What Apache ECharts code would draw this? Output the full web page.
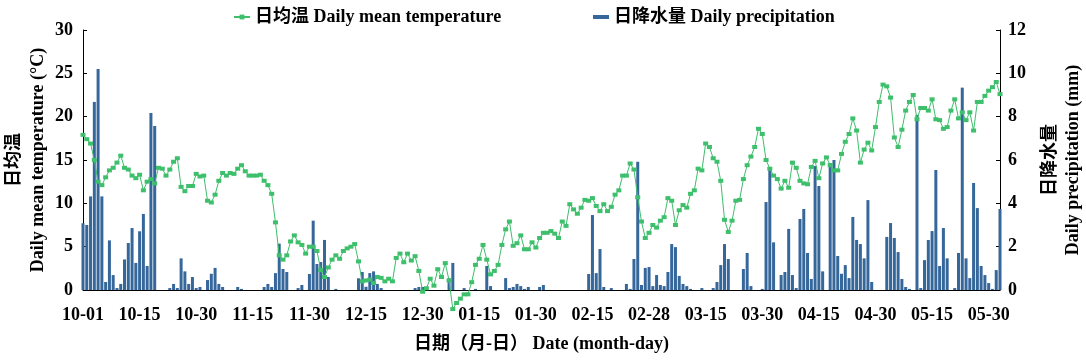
<!DOCTYPE html>
<html>
<head>
<meta charset="utf-8">
<script src="https://cdn.jsdelivr.net/npm/echarts@6/dist/echarts.min.js"></script>
<style>
html,body{margin:0;padding:0;background:#fff;}
#chart{width:1086px;height:360px;}
</style>
</head>
<body>
<div id="chart"></div>
<script>
// Tick labels placed every 15 days (day index 0, 15, 30, ...)
const tickLabels = ['10-01','10-15','10-30','11-15','11-30','12-15','12-30','01-15','01-30','02-15','02-28','03-15','03-30','04-15','04-30','05-15','05-30'];

// Daily mean temperature (°C), one value per day starting 10-01
const temperature = [
  17.9,17.4,16.9,15.0,12.5,12.1,13.0,13.8,14.1,14.7,15.5,14.1,13.9,13.2,12.9,13.3,11.5,12.5,12.8,12.3,14.1,14.0,13.2,13.9,14.8,15.2,11.9,11.4,12.0,12.0,13.4,
  13.1,13.2,10.3,10.1,11.0,12.6,13.5,13.2,13.5,13.4,14.0,14.4,13.7,13.2,13.2,13.2,13.3,12.6,12.1,11.1,7.8,4.0,3.5,4.0,5.6,6.3,5.5,5.2,4.2,5.0,5.0,
  4.5,2.3,1.5,2.6,3.5,4.0,3.6,4.5,4.8,5.0,5.3,3.3,1.0,1.1,1.2,0.8,1.5,1.4,1.0,1.3,1.0,3.7,4.2,3.2,4.2,3.4,3.9,2.2,-0.2,0.2,1.3,
  0.5,2.4,1.5,3.1,1.1,-2.2,-1.5,-1.0,-0.5,-0.5,0.9,2.9,3.6,5.2,3.5,1.8,2.2,2.9,5.2,7.0,7.9,5.1,5.4,6.3,4.7,4.7,5.5,4.9,6.0,6.6,6.6,6.8,
  6.5,6.0,7.9,7.4,9.9,9.3,8.8,9.5,10.4,10.3,10.6,9.7,9.1,9.9,9.1,9.6,11.0,11.5,13.2,13.2,14.6,13.9,10.7,7.9,6.0,6.6,7.5,7.2,8.0,8.4,10.6,
  10.3,7.5,9.2,9.8,9.5,11.1,11.5,14.0,13.8,16.9,16.5,15.2,14.8,12.6,8.1,6.7,8.0,10.3,10.4,12.8,14.4,15.4,16.5,18.6,18.0,15.0,14.0,13.2,12.8,11.7,12.6,
  11.8,14.7,14.1,12.6,12.3,12.2,14.2,14.9,12.9,14.6,15.3,14.4,13.8,13.8,15.7,17.1,18.0,19.8,18.4,14.7,16.2,17.0,16.1,18.8,21.7,23.7,23.5,22.2,17.6,16.5,18.5,
  20.7,21.7,22.5,19.7,21.0,21.0,20.7,22.0,19.7,19.6,18.6,18.8,20.7,22.0,19.8,20.5,19.6,20.5,18.4,21.7,21.7,22.4,23.0,23.4,24.0,22.6
];

// Daily precipitation (mm), one value per day starting 10-01
const precipitation = [
  3.08,3.0,4.32,8.68,10.2,4.32,0.37,2.29,0.69,0.09,0.28,1.41,2.17,2.86,1.25,2.71,3.51,1.11,8.17,7.57,0,0,0,0.09,0.28,0.09,1.46,0.86,0.28,0.6,0.09,
  0.14,0,0.46,0.75,1.02,0.28,0.14,0,0,0,0.14,0.05,0,0,0,0,0,0.14,0.28,0.14,0.78,2.14,0.97,0.83,0,0,0.09,0.23,0,0.74,3.2,
  1.2,1.29,2.31,0.6,0,0.05,0,0,0,0,0,0.54,0.83,0.15,0.78,0.86,0.28,0.09,0,0,0,0,0,0,0,0,0.09,0.14,0.14,0,0,
  0,0,0,0,0.54,1.25,0,0,0.09,0,0,0.05,0,0,1.11,0.18,0,0,0,0.55,0.09,0.14,0.28,0.18,0.05,0.14,0,0,0.14,0.23,0,0,
  0,0,0,0,0,0,0,0,0,0.74,3.46,0.78,1.89,0.14,0,0.09,0,0,0,0.28,0.05,1.43,5.92,0.23,1.02,1.06,0.18,0.69,0.23,0.18,0.83,
  2.12,1.98,0.65,0.28,0.18,0.05,0,0,0.09,0,0,0.09,0.37,1.15,2.12,1.43,0,0,0,0.97,1.71,0.18,0,0,0.05,4.06,5.64,2.2,0,0.69,0.83,
  2.82,0.69,0.09,3.28,3.74,1.71,0.51,5.72,4.8,0.86,0,5.86,6.0,1.57,0.75,1.15,0.55,3.37,2.31,2.12,1.46,4.15,0.37,0,0,0,2.45,3.09,2.4,1.75,0.51,
  0.14,0.05,0,8.08,0.09,1.38,2.31,2.72,5.54,1.11,2.86,1.46,0,0.09,1.71,9.34,1.46,0.55,4.94,3.78,1.11,0.69,0.32,0.05,0.92,3.74
];

const tempName = '日均温 Daily mean temperature';
const precName = '日降水量 Daily precipitation';
const FONT = '"Liberation Serif", "Times New Roman", "Noto Sans CJK SC", serif';
const TEMP_COLOR = '#3dbf6b';
const PREC_COLOR = '#36679b';

const lastDay = temperature.length - 1;
const tempData = temperature.map((v, i) => [i, v]);
const precData = precipitation.map((v, i) => [i, v]);

const chart = echarts.init(document.getElementById('chart'), null, {renderer: 'canvas'});
const txt = {fontFamily: FONT, fontWeight: 'bold', fontSize: 18, color: '#000'};

chart.setOption({
  animation: false,
  backgroundColor: '#fff',
  textStyle: {fontFamily: FONT},
  grid: {left: 83, right: 86, top: 30, bottom: 70, containLabel: false, outerBoundsMode: 'none'},
  legend: [
    {data: [tempName], left: 228, top: 3, itemWidth: 16, itemHeight: 6, itemGap: 0,
     textStyle: Object.assign({}, txt)},
    {data: [{name: precName, icon: 'rect'}], left: 588, top: 3, itemWidth: 16, itemHeight: 4,
     textStyle: Object.assign({}, txt)}
  ],
  xAxis: {
    type: 'value', min: 0, max: lastDay, interval: 15,
    name: '日期（月-日） Date (month-day)', nameLocation: 'middle', nameGap: 45,
    nameMoveOverlap: false,
    nameTextStyle: Object.assign({}, txt),
    axisLine: {show: true, lineStyle: {color: '#000', width: 1}},
    axisTick: {show: false},
    splitLine: {show: false},
    axisLabel: Object.assign({margin: 16, showMaxLabel: false,
      formatter: v => (v % 15 === 0 && tickLabels[v / 15]) ? tickLabels[v / 15] : ''}, txt)
  },
  yAxis: [
    {
      type: 'value', min: 0, max: 30, interval: 5, position: 'left',
      name: '日均温\nDaily mean temperature (°C)', nameLocation: 'middle', nameRotate: 90, nameGap: 33,
      nameMoveOverlap: false,
      nameTextStyle: Object.assign({lineHeight: 24}, txt),
      axisLine: {show: true, lineStyle: {color: '#000', width: 1}},
      axisTick: {show: true, inside: true, length: 4, lineStyle: {color: '#000'}},
      splitLine: {show: false},
      axisLabel: Object.assign({margin: 10}, txt)
    },
    {
      type: 'value', min: 0, max: 12, interval: 2, position: 'right',
      name: '日降水量\nDaily precipitation (mm)', nameLocation: 'middle', nameRotate: 90, nameGap: 39,
      nameMoveOverlap: false,
      nameTextStyle: Object.assign({lineHeight: 23}, txt),
      axisLine: {show: true, lineStyle: {color: '#000', width: 1}},
      axisTick: {show: true, inside: true, length: 4, lineStyle: {color: '#000'}},
      splitLine: {show: false},
      axisLabel: Object.assign({margin: 8}, txt)
    }
  ],
  series: [
    {
      name: precName, type: 'bar', yAxisIndex: 1, data: precData,
      barWidth: 3, itemStyle: {color: PREC_COLOR}
    },
    {
      name: tempName, type: 'line', yAxisIndex: 0, data: tempData, clip: false,
      symbol: 'rect', symbolSize: [5, 4], showSymbol: true, showAllSymbol: true,
      lineStyle: {color: TEMP_COLOR, width: 1}, itemStyle: {color: TEMP_COLOR}, z: 3
    }
  ]
});
</script>
</body>
</html>
